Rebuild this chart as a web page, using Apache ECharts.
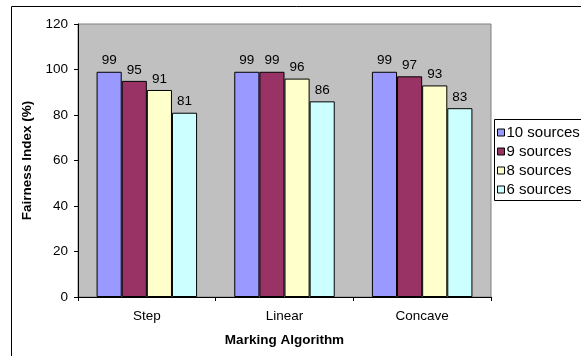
<!DOCTYPE html>
<html>
<head>
<meta charset="utf-8">
<script src="https://cdn.jsdelivr.net/npm/echarts@6/dist/echarts.min.js"></script>
<style>
  html, body { margin: 0; padding: 0; background: #ffffff; }
  #chart { width: 581px; height: 356px; }
</style>
</head>
<body>
<div id="chart"></div>
<script>
// Marking algorithms compared
var categories = ['Step', 'Linear', 'Concave'];

// Fairness index (%) per number of sources
var sources10 = [99, 99, 99];
var sources9 = [95, 99, 97];
var sources8 = [91, 96, 93];
var sources6 = [81, 86, 83];

var seriesNames = ['10 sources', '9 sources', '8 sources', '6 sources'];
var yTicks = [0, 20, 40, 60, 80, 100, 120];

var FONT = '"Liberation Sans", Arial, sans-serif';
var FS = 13.5;
var colors = ['#9999FF', '#993366', '#FFFFCC', '#CCFFFF'];

var chart = echarts.init(document.getElementById('chart'), null, { renderer: 'canvas' });

function barSeries(name, data, color) {
  return {
    name: name,
    type: 'bar',
    data: data,
    barGap: '0%',
    barCategoryGap: '27%',
    itemStyle: { color: color, borderColor: '#000000', borderWidth: 1 },
    label: {
      show: true,
      position: 'top',
      distance: 4,
      color: '#000000',
      fontFamily: FONT,
      fontSize: FS
    },
    emphasis: { disabled: true },
    animation: false
  };
}

var option = {
  animation: false,
  backgroundColor: '#ffffff',
  grid: {
    left: 78, right: 90, top: 24, bottom: 59,
    show: true,
    backgroundColor: '#C0C0C0',
    borderColor: '#808080',
    borderWidth: 1
  },
  legend: {
    orient: 'vertical',
    left: 492,
    top: 120,
    itemWidth: 7,
    itemHeight: 7,
    itemGap: 4,
    icon: 'rect',
    data: seriesNames,
    textStyle: { fontFamily: FONT, fontSize: 15, color: '#000000', padding: [0, 0, 0, -3], lineHeight: 15 },
    itemStyle: { borderColor: '#000000', borderWidth: 1 }
  },
  xAxis: {
    type: 'category',
    data: categories,
    name: 'Marking Algorithm',
    nameLocation: 'middle',
    nameGap: 36,
    nameTextStyle: { fontFamily: FONT, fontSize: FS, fontWeight: 'bold', color: '#000000' },
    axisLine: { lineStyle: { color: '#000000', width: 1 } },
    axisTick: { show: true, alignWithLabel: false, length: 4, lineStyle: { color: '#000000' } },
    axisLabel: { fontFamily: FONT, fontSize: FS, color: '#000000', margin: 12 }
  },
  yAxis: {
    type: 'value',
    min: yTicks[0],
    max: yTicks[yTicks.length - 1],
    interval: yTicks[1] - yTicks[0],
    name: 'Fairness Index (%)',
    nameLocation: 'middle',
    nameGap: 41,
    nameRotate: 90,
    nameTextStyle: { fontFamily: FONT, fontSize: FS, fontWeight: 'bold', color: '#000000' },
    splitLine: { show: false },
    axisLine: { show: true, lineStyle: { color: '#000000', width: 1 } },
    axisTick: { show: true, length: 4, lineStyle: { color: '#000000' } },
    axisLabel: { fontFamily: FONT, fontSize: FS, color: '#000000', margin: 10 }
  },
  graphic: [
    {
      type: 'rect',
      silent: true,
      z: -1,
      shape: { x: 11.5, y: 6.5, width: 700, height: 500 },
      style: { fill: 'none', stroke: '#000000', lineWidth: 1 }
    },
    {
      type: 'rect',
      silent: true,
      shape: { x: 494.5, y: 119.5, width: 120, height: 81 },
      style: { fill: '#ffffff', stroke: '#000000', lineWidth: 1 },
      z: 0
    }
  ],
  series: [
    barSeries(seriesNames[0], sources10, colors[0]),
    barSeries(seriesNames[1], sources9, colors[1]),
    barSeries(seriesNames[2], sources8, colors[2]),
    barSeries(seriesNames[3], sources6, colors[3])
  ]
};

chart.setOption(option);
</script>
</body>
</html>
